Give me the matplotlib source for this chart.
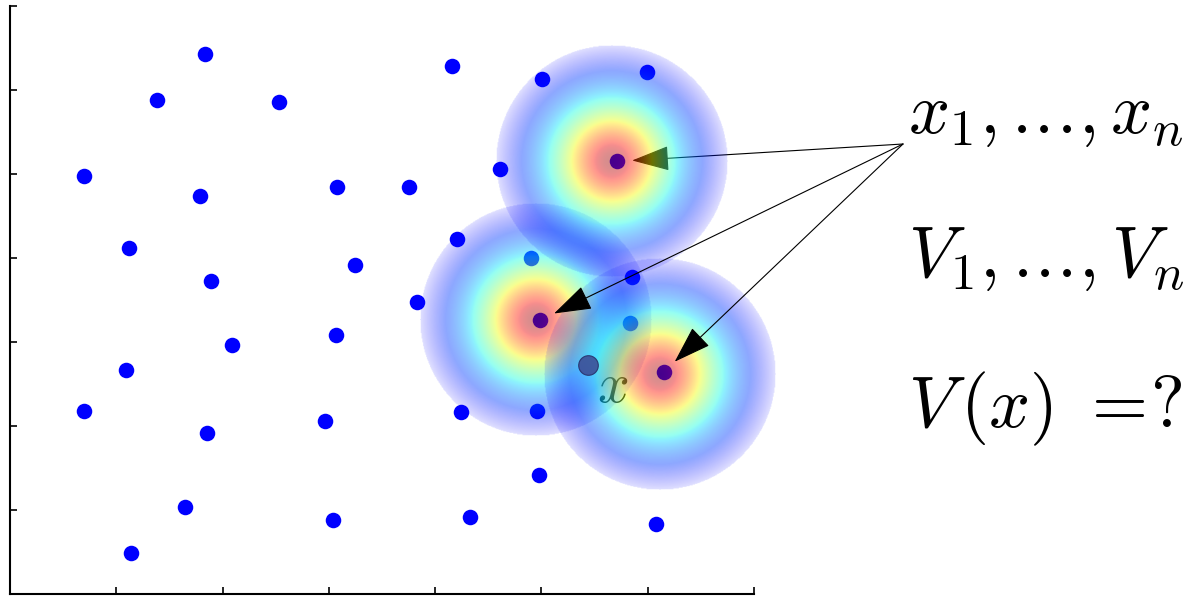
import numpy as np
import matplotlib
matplotlib.use("Agg")
import matplotlib.pyplot as plt

plt.rcParams['mathtext.fontset'] = 'cm'

# sample sites x_1..x_n (data units, ticks 0..7 on both axes)
pts_x = [1.83, 1.38, 2.53, 4.16, 5.01, 5.99, 0.70, 1.79, 3.08, 3.75, 4.61, 5.71,
         1.12, 4.21, 4.90, 1.89, 3.25, 5.85, 3.83, 4.99, 5.83, 2.09, 3.07, 1.09,
         6.15, 0.70, 1.85, 2.96, 4.24, 4.96, 4.98, 1.65, 3.04, 4.33, 6.08, 1.14]
pts_y = [6.43, 5.88, 5.86, 6.29, 6.13, 6.21, 4.98, 4.74, 4.85, 4.85, 5.06, 5.15,
         4.12, 4.23, 4.00, 3.73, 3.92, 3.77, 3.48, 3.26, 3.23, 2.96, 3.08, 2.67,
         2.64, 2.18, 1.92, 2.06, 2.17, 2.18, 1.42, 1.04, 0.88, 0.92, 0.83, 0.49]

# kernels drawn around three of the sites
kern_x = [5.66, 4.95, 6.12]
kern_y = [5.15, 3.26, 2.62]

# query point
query_x = 5.44
query_y = 2.73

labels = [r'$x_1,.\!.\!.\!,x_n$',
          r'$V_1,.\!.\!.\!,V_n$',
          r'$V\,(x)\ =\!?$']

W, H, DPI = 1200, 596, 100
fig = plt.figure(figsize=(W / DPI, H / DPI), dpi=DPI)
ax = fig.add_axes([10 / W, 2 / H, 744 / W, 588 / H])
ax.set_xticks(range(8))
ax.set_yticks(range(8))
ax.tick_params(direction='in', length=5, width=1.2, labelbottom=False, labelleft=False)
for s in ['top', 'right']:
    ax.spines[s].set_visible(False)
for s in ['left', 'bottom']:
    ax.spines[s].set_linewidth(1.5)

ax.scatter(pts_x, pts_y, s=125, color='#0000ff', zorder=2, linewidths=0)
ax.text(query_x + 0.08, query_y - 0.44, r'$x$', fontsize=40, zorder=2)

# radial kernel image (round in pixels)
rad_px = 116
rx = rad_px / (744 / 7)
ry = rad_px / (588 / 7)
n = 301
g = np.linspace(-1, 1, n)
gx, gy = np.meshgrid(g, g)
r = np.sqrt(gx ** 2 + gy ** 2)
val = np.exp(-(r / 0.5) ** 2)
rgba = plt.cm.jet(0.11 + 0.86 * val)
alpha = 0.45 * (1 - 0.72 * np.clip((r - 0.78) / 0.22, 0, 1))
alpha[r > 1] = 0
rgba[..., 3] = alpha

zs = [4, 3, 3]
for cx, cy, z in zip(kern_x, kern_y, zs):
    ax.imshow(rgba, extent=[cx - rx, cx + rx, cy - ry, cy + ry], origin='lower',
              interpolation='bilinear', zorder=z, clip_on=False, aspect='auto')
ax.set_xlim(0, 7)
ax.set_ylim(0, 7)

ax.scatter([query_x], [query_y], s=200, color='#3c4890', alpha=0.85,
           edgecolors='#262c66', linewidths=0.8, zorder=5)

start = (903, H - 144)
tips_x = [5.71, 4.99, 6.15]
tips_y = [5.15, 3.26, 2.64]
arrow_z = [3.5, 6, 6]
for tx, ty, z in zip(tips_x, tips_y, arrow_z):
    ax.annotate('', xy=(tx, ty), xycoords='data', xytext=start, textcoords='figure pixels',
                arrowprops=dict(arrowstyle='-|>,head_length=1.2,head_width=0.4',
                                mutation_scale=20, lw=0.8, color='black',
                                shrinkA=0, shrinkB=11),
                zorder=z, annotation_clip=False)

baselines = [133, 277, 427]
for lab, b in zip(labels, baselines):
    fig.text(908 / W, (H - b) / H, lab, fontsize=52, va='baseline')

fig.savefig('out.png', dpi=DPI)
